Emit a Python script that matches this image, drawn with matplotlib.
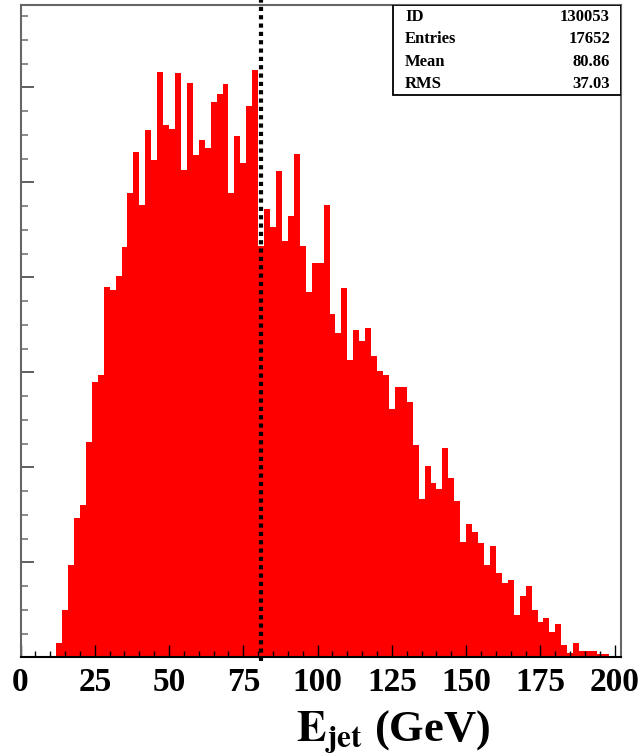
import numpy as np
import matplotlib
matplotlib.use("Agg")
import matplotlib.pyplot as plt

# jet energy histogram, 2 GeV bins starting at 12 GeV
bin_lo = 12
bin_w = 2
counts = [9, 30, 58, 88, 96, 136, 174, 178, 234, 232,
          241, 259, 293, 319, 286, 333, 314, 370, 336, 334,
          369, 308, 363, 317, 327, 322, 351, 356, 362, 293,
          329, 312, 348, 371, 260, 283, 272, 307, 263, 279,
          318, 260, 231, 249, 249, 286, 217, 205, 233, 188,
          207, 200, 208, 190, 181, 178, 157, 171, 171, 161,
          134, 100, 121, 110, 106, 132, 113, 99, 73, 84,
          79, 72, 58, 70, 53, 47, 49, 27, 39, 45,
          30, 22, 25, 16, 21, 8, 3, 9, 4, 4,
          4, 2, 2]

stat_names = ["ID", "Entries", "Mean", "RMS"]
stat_values = ["130053", "17652", "80.86", "37.03"]
mean_val = 80.86

x_ticks = [0, 25, 50, 75, 100, 125, 150, 175, 200]

plt.rcParams["font.family"] = ["Liberation Serif", "DejaVu Serif"]
plt.rcParams["mathtext.fontset"] = "stix"

fig = plt.figure(figsize=(6.43, 7.56), dpi=100)
ax = fig.add_axes([20.5 / 643, 1 - 657.3 / 756, 600.5 / 643, 652.6 / 756])

edges = bin_lo + bin_w * np.arange(len(counts) + 1)
ax.stairs(counts, edges, fill=True, color="#ff0000", linewidth=0)

# mean marker
ax.axvline(mean_val, ymin=-0.006, ymax=1.01, color="black", lw=3.0,
           linestyle=(0, (1, 1)), clip_on=False, zorder=5)

ax.set_xlim(0, 202.1)
ax.set_ylim(0, 412.2)

ax.set_xticks(x_ticks)
ax.set_xticks(np.arange(0, 201, 5), minor=True)
ax.set_yticks(np.arange(0, 412, 60))
ax.set_yticks(np.arange(0, 412, 15), minor=True)
ax.set_yticklabels([])
ax.tick_params(axis="x", which="major", direction="in", length=8.5, width=1.0,
               color="black", labelsize=24, pad=7)
ax.tick_params(axis="x", which="minor", direction="in", length=4.3, width=1.0,
               color="black")
ax.tick_params(axis="y", which="major", direction="in", length=9, width=1.2,
               color="#444444", labelleft=False)
ax.tick_params(axis="y", which="minor", direction="in", length=4.8, width=1.2,
               color="#777777")
for lab in ax.get_xticklabels():
    lab.set_fontweight("bold")

for side in ["left", "top", "right"]:
    ax.spines[side].set_color("#666666")
    ax.spines[side].set_linewidth(1.5)
ax.spines["bottom"].set_color("black")
ax.spines["bottom"].set_linewidth(1.5)

# stats box in the upper right corner
bx0 = (393.3 - 20.5) / 600.5
by0 = 1 - (95.5 - 4.7) / 652.6
ax.add_patch(plt.Rectangle((bx0, by0), 1 - bx0, 1 - by0, transform=ax.transAxes,
                           facecolor="white", edgecolor="black", lw=1.3, zorder=6))
row_y = [16.7, 39.3, 62.0, 84.0]
for name, val, ry in zip(stat_names, stat_values, row_y):
    yy = 1 - (ry - 4.7) / 652.6
    ax.text((405 - 20.5) / 600.5, yy, name, transform=ax.transAxes, ha="left",
            va="center", fontsize=12, fontweight="bold", zorder=7)
    ax.text((610 - 20.5) / 600.5, yy, val, transform=ax.transAxes, ha="right",
            va="center", fontsize=12, fontweight="bold", zorder=7)

fig.text(490 / 643, 1 - 741 / 756, r"$\mathbf{E}_{\mathbf{jet}}$ (GeV)",
         ha="right", va="baseline", fontsize=32, fontweight="bold")

fig.savefig("out.png", dpi=100, facecolor="white")
